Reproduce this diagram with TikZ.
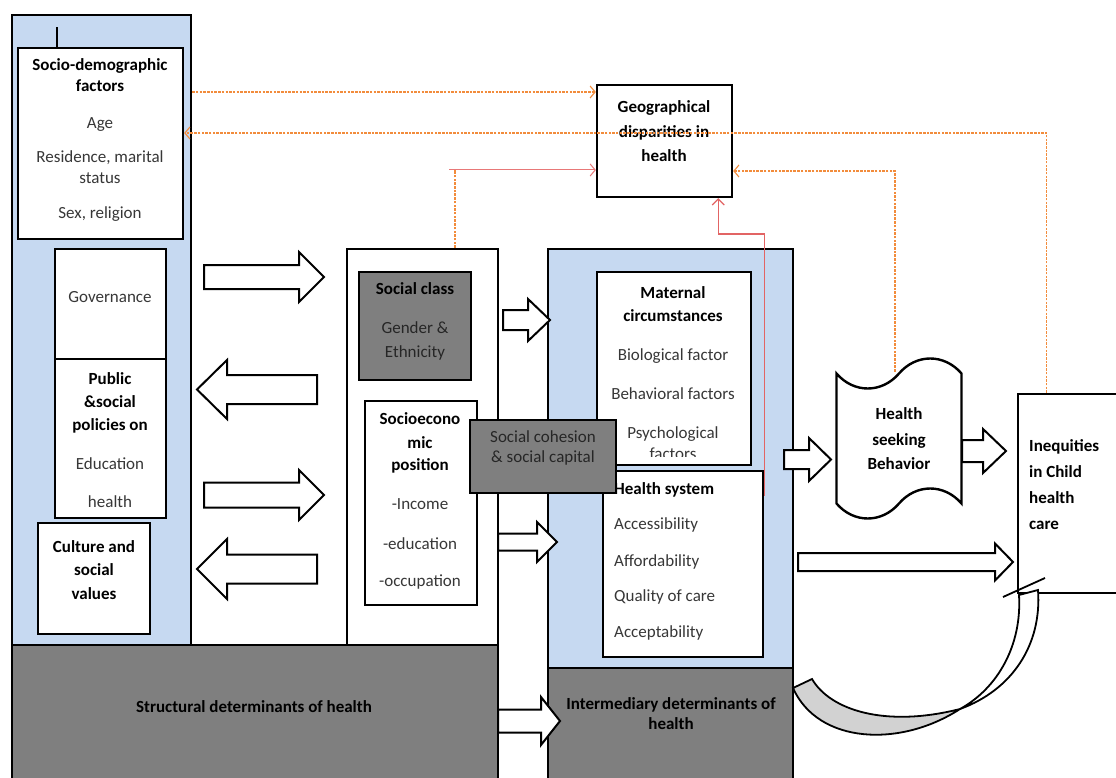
\documentclass[tikz,border=0pt]{standalone}
\usepackage{fontspec}
\setmainfont{Carlito}
\usetikzlibrary{arrows.meta,shapes.symbols}

\definecolor{colblue}{RGB}{198,217,241}
\definecolor{boxgray}{RGB}{127,127,127}
\definecolor{ribgray}{RGB}{210,210,210}
\definecolor{txtgray}{RGB}{55,55,55}
\definecolor{linkorange}{RGB}{242,140,60}
\definecolor{linkpink}{RGB}{232,120,120}
\definecolor{linkred}{RGB}{226,100,100}

\newcommand{\hd}[1]{{\color{black}\bfseries #1}}
% block arrow: start x, head base x, tip x, mid y, half shaft, half head
\newcommand{\blockarr}[6]{%
  \draw[blockarr] ({#1},{#4-#5}) -- ({#2},{#4-#5}) -- ({#2},{#4-#6}) -- ({#3},{#4})
     -- ({#2},{#4+#6}) -- ({#2},{#4+#5}) -- ({#1},{#4+#5}) -- cycle;}

\tikzset{
  bluecol/.style={draw,line width=2.4pt,fill=colblue,inner sep=0pt},
  wbox/.style={draw,line width=2.4pt,fill=white,inner sep=0pt},
  gbox/.style={draw,line width=2.4pt,fill=boxgray,inner sep=0pt},
  txt/.style={align=center,inner sep=0pt,text=txtgray,font=\fontsize{17}{20.7}\selectfont},
  ltxt/.style={txt,align=left,anchor=west},
  blockarr/.style={draw,line width=2pt,fill=white,line join=miter},
  orline/.style={draw=linkorange,line width=1.1pt,dash pattern=on 2.5pt off 1.2pt},
  orlink/.style={orline,-{Straight Barb[length=5pt,width=12pt]}},
  pinklink/.style={draw=linkpink,line width=1pt,-{Straight Barb[length=5pt,width=12pt]}},
  redlink/.style={draw=linkred,line width=1.2pt,-{Straight Barb[length=6pt,width=12pt]}}
}

\begin{document}
\begin{tikzpicture}[x=1pt,y=-1pt]
 \useasboundingbox[fill=white] (0,0) rectangle (1116,778);
 % columns
 \node[bluecol,minimum width=179,minimum height=630] (leftcol) at (101.5,330) {};
 \node[wbox,minimum width=151,minimum height=396] (midcol) at (422.5,447) {};
 \node[bluecol,minimum width=245,minimum height=419] (rightcol) at (670.5,458.5) {};
 \node[gbox,minimum width=486,minimum height=147] (struct) at (255,718.5) {};
 \node[gbox,minimum width=245,minimum height=124] (inter) at (670.5,730) {};
 \node[txt] (structtxt) at (254,707) {\hd{Structural determinants of health}};
 \node[txt] (intertxt) at (671,713.5) {\hd{Intermediary determinants of}\\\hd{health}};

 % left column
 \node[wbox,minimum width=165,minimum height=191] (socio) at (100.5,143.5) {};
 \draw[line width=1.2pt] ([xshift=-43.5pt]socio.north) -- ([xshift=-43.5pt,yshift=20pt]socio.north);
 \node[txt] (sociotxt) at (100,140) {\hd{Socio-demographic}\\\hd{factors}\\[16pt]Age\\[14pt]
   Residence, marital\\status\\[14pt]Sex, religion};
 \node[wbox,minimum width=111,minimum height=110] (gov) at (110.5,304) {};
 \node[txt] (govtxt) at (110,297) {Governance};
 \node[wbox,minimum width=111,minimum height=159] (public) at (110.5,438.5) {};
 \node[txt] (publictxt) at (110,440) {\hd{Public}\\[3pt]\hd{\&social}\\[2pt]\hd{policies on}\\[18pt]
   Education\\[18pt]health};
 \node[wbox,minimum width=112,minimum height=111] (culture) at (94,578.5) {};
 \node[txt] (culturetxt) at (94,570) {\hd{Culture and}\\[3pt]\hd{social}\\[3pt]\hd{values}};

 % middle column
 \node[gbox,minimum width=112,minimum height=108] (sclass) at (415,326) {};
 \node[txt,text=black!85] (sclasstxt) at (415,321.5) {\hd{Social class}\\[18pt]Gender \&\\[3pt]Ethnicity};
 \node[wbox,minimum width=112,minimum height=204] (socioeco) at (421,503) {};
 \node[txt] (socioecotxt) at (420,501) {\hd{Socioecono}\\[3pt]\hd{mic}\\[2pt]\hd{position}\\[18pt]
   -Income\\[19pt]-education\\[17pt]-occupation};

 % right column
 \node[wbox,minimum width=154,minimum height=193] (mat) at (674,368.5) {};
 \begin{scope}
  \clip (598,273) rectangle (750,456);
  \node[txt] (mattxt) at (673,373) {\hd{Maternal}\\[3pt]\hd{circumstances}\\[18pt]Biological factor\\[18pt]
    Behavioral factors\\[19pt]Psychological\\factors};
 \end{scope}
 \node[wbox,minimum width=160,minimum height=186] (hsys) at (683,564) {};
 \node[ltxt] (hsystxt) at (614,561) {\hd{Health system}\\[15pt]Accessibility\\[16pt]Affordability\\[14pt]
   Quality of care\\[15pt]Acceptability};

 % block arrows
 \blockarr{204}{299}{324}{277}{12}{25}
 \blockarr{317}{227}{197}{389.5}{14.5}{29.5}
 \blockarr{204}{299}{324}{495}{12.5}{25}
 \blockarr{317}{227}{197}{569}{14.5}{30}
 \blockarr{503}{528}{550}{320}{10}{21}
 \blockarr{498}{537}{557}{542}{8.5}{20}
 \blockarr{498}{541}{560}{721}{11.5}{24}
 \blockarr{784}{809}{831}{459.5}{9.5}{21.5}
 \blockarr{962}{983}{1006}{451}{11}{22}
 \blockarr{798}{995}{1013}{562}{9}{18.5}

 \node[gbox,minimum width=146,minimum height=73] (cohesion) at (543,456.5) {};
 \node[txt,text=black!85] (cohesiontxt) at (543,448) {Social cohesion\\\& social capital};

 % outcome side
 \node[wbox,minimum width=135,minimum height=112] (geo) at (664.5,141) {};
 \node[txt] (geotxt) at (664,131) {\hd{Geographical}\\[5pt]\hd{disparities in}\\[3pt]\hd{health}};
 \node[tape,draw,line width=2.4pt,fill=white,minimum width=125,minimum height=160,
   tape bend height=30pt,txt] (seek) at (899,438.5) {\hd{Health}\\[5pt]\hd{seeking}\\[3pt]\hd{Behavior}};
 \node[wbox,minimum width=112,minimum height=199] (ineq) at (1074,493.5) {};
 \node[ltxt] (ineqtxt) at (1029,485) {\hd{Inequities}\\[5pt]\hd{in Child}\\[5pt]\hd{health}\\[6pt]\hd{care}};

 % curved arrow
 \filldraw[line width=1.8pt,fill=ribgray] (793,688) -- (812,679) .. controls (830,710) and (885,728) .. (960,709)
   .. controls (900,748) and (818,744) .. (793,688) -- cycle;
 \filldraw[line width=1.8pt,fill=white] (960,709) .. controls (998,688) and (1022,645) .. (1019,595)
   -- (1038,590) .. controls (1042,645) and (1012,690) .. (960,709) -- cycle;
 \draw[line width=1.8pt] (1003,597) -- (1045,578);

 % links
 \draw[orlink] (leftcol.east |- 0,92) -- (geo.west |- 0,92);
 \draw[orlink] ([xshift=30pt]ineq.north west) |- (socio.east |- 0,133);
 \coordinate (cturn) at ([xshift=32.5pt]midcol.north |- 0,170);
 \draw[orline] ([xshift=32.5pt]midcol.north) -- (cturn);
 \draw[pinklink] ([xshift=-6pt]cturn) -- (geo.west |- cturn);
 \draw[orlink] ([xshift=-4pt]seek.north) |- (geo.east |- 0,171);
 \draw[redlink] ([yshift=-26pt]hsys.north east) |- ([xshift=-15pt]geo.south east |- 0,234)
   -- ([xshift=-15pt]geo.south east);
\end{tikzpicture}
\end{document}
